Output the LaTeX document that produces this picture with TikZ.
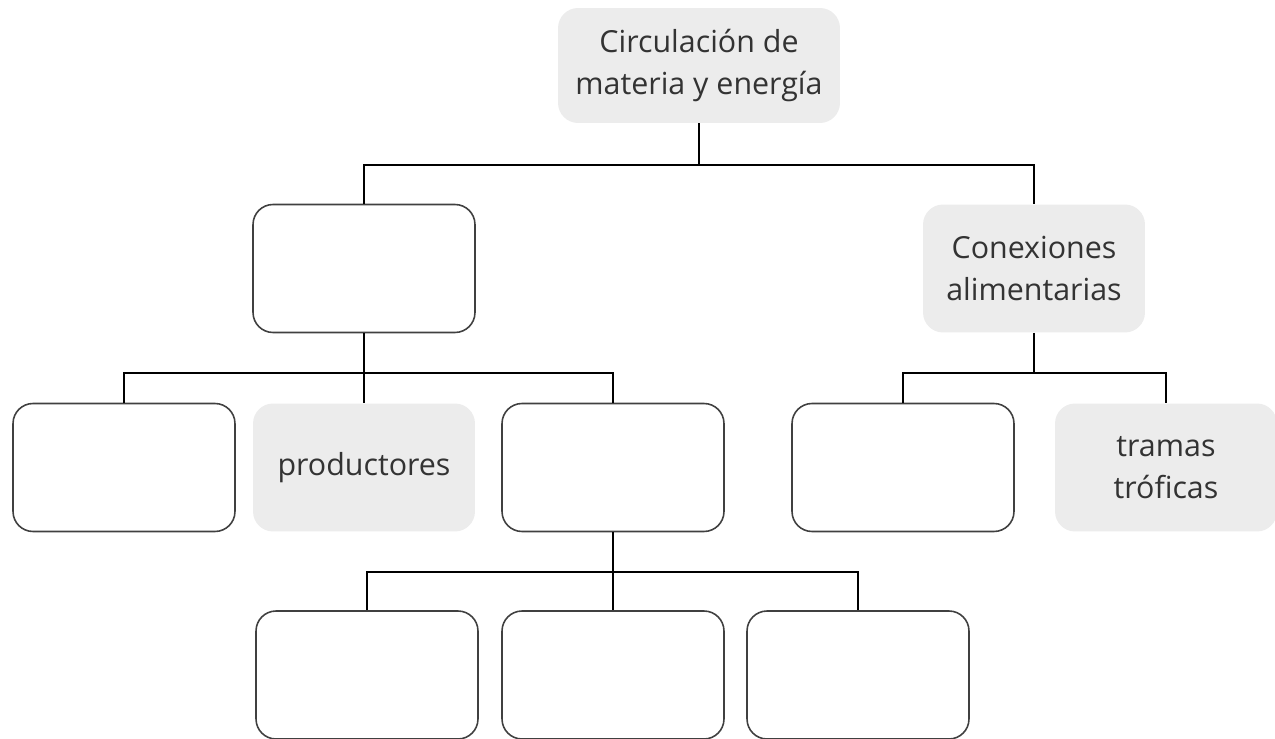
\documentclass[tikz,border=0pt]{standalone}
\usepackage{fontspec}
\setmainfont{Open Sans}
\usetikzlibrary{positioning,calc}

\begin{document}
\begin{tikzpicture}[x=0.02cm, y=-0.02cm]
  \tikzstyle{box}=[rectangle, rounded corners=0.4cm, minimum width=4.44cm, minimum height=2.56cm, align=center, font=\fontsize{17.3}{23.5}\selectfont, text=black!80]
  \tikzstyle{blank}=[draw=black!75, line width=0.9pt, fill=white]
  \tikzstyle{given}=[fill=gray!15]
  \tikzstyle{link}=[line width=1.1pt, black]

  \useasboundingbox (0,0) rectangle (1275,739);

  % Nivel 1
  \node[box, given, minimum width=5.64cm, minimum height=2.3cm] (top) at (699,65.5) {Circulación de\\materia y energía};

  % Nivel 2
  \node[box, blank] (mid) at (364,268.5) {};
  \node[box, given] (cons) at (1034,268.5) {Conexiones\\alimentarias};

  % Nivel 3
  \node[box, blank] (b1) at (124,467.5) {};
  \node[box, given] (prod) at (364,467.5) {productores};
  \node[box, blank] (b3) at (613,467.5) {};
  \node[box, blank] (b4) at (903,467.5) {};
  \node[box, given] (tramas) at (1166,467.5) {tramas\\tróficas};

  % Nivel 4
  \node[box, blank] (c1) at (367,675) {};
  \node[box, blank] (c2) at (613,675) {};
  \node[box, blank] (c3) at (858,675) {};

  % Conexiones
  \draw[link] (top.south) -- ++(0,42) coordinate (j1);
  \draw[link] (mid.north) |- (j1) -| (cons.north);

  \draw[link] (mid.south) -- ++(0,40) coordinate (j2);
  \draw[link] (b1.north) |- (j2) -| (b3.north);
  \draw[link] (j2) -- (prod.north);

  \draw[link] (cons.south) -- ++(0,40) coordinate (j3);
  \draw[link] (b4.north) |- (j3) -| (tramas.north);

  \draw[link] (b3.south) -- ++(0,40) coordinate (j4);
  \draw[link] (c1.north) |- (j4) -| (c3.north);
  \draw[link] (j4) -- (c2.north);
\end{tikzpicture}
\end{document}
